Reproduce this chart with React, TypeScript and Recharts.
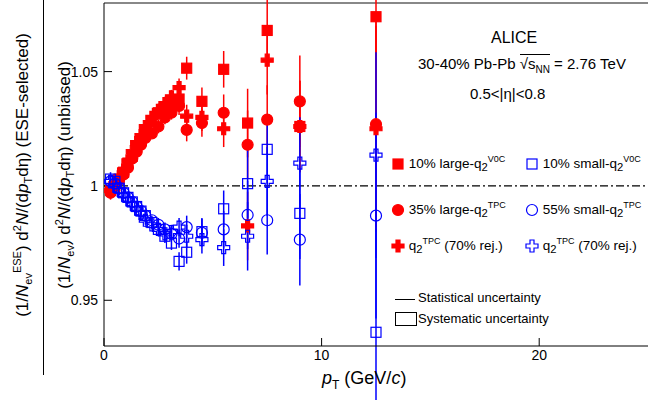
import React from "react";
import { ScatterChart, Scatter, XAxis, YAxis, ErrorBar, ReferenceLine } from "recharts";

const ptLow = [0.3, 0.5, 0.7, 0.9, 1.1, 1.3, 1.5, 1.7, 1.9, 2.2, 2.5, 2.8, 3.1, 3.45, 3.8, 4.5, 5.5, 6.6, 7.5, 9, 12.5];
const redSq = [0.998, 1.0, 1.003, 1.006, 1.01, 1.013, 1.017, 1.02, 1.024, 1.028, 1.032, 1.034, 1.036, 1.038, 1.0515, 1.037, 1.051, 1.0275, 1.068, 1.026, 1.074];
const statErr = [0.003, 0.002, 0.002, 0.002, 0.002, 0.002, 0.002, 0.002, 0.002, 0.002, 0.003, 0.003, 0.003, 0.004, 0.005, 0.006, 0.008, 0.015, 0.015, 0.02, 0.045];
const redCi = [0.997, 1.0, 1.003, 1.005, 1.008, 1.012, 1.015, 1.018, 1.021, 1.023, 1.026, 1.03, 1.032, 1.035, 1.0245, 1.0275, 1.032, 1.018, 1.029, 1.037, 1.027];
const redCr = [0.998, 1.001, 1.004, 1.007, 1.011, 1.015, 1.019, 1.022, 1.026, 1.03, 1.033, 1.036, 1.039, 1.043, 1.0305, 1.03, 1.025, 0.9825, 1.055, 1.026, 1.025];
const bluSq = [1.003, 1.002, 0.999, 0.997, 0.995, 0.993, 0.991, 0.989, 0.987, 0.984, 0.981, 0.978, 0.975, 0.967, 0.971, 0.98, 0.99, 1.001, 1.016, 0.988, 0.936];
const bluCi = [1.002, 1.001, 0.999, 0.997, 0.995, 0.993, 0.991, 0.989, 0.987, 0.985, 0.983, 0.981, 0.979, 0.977, 0.982, 0.9795, 0.981, 0.9873, 0.985, 0.9765, 0.987];
const bluCr = [1.002, 1.0, 0.998, 0.996, 0.994, 0.992, 0.99, 0.988, 0.985, 0.983, 0.981, 0.979, 0.98, 0.982, 0.978, 0.9765, 0.973, 0.978, 1.002, 1.01, 1.0135];

const mk = (vals: number[]) => ptLow.map((x, i) => ({ x, y: vals[i], e: statErr[i] }));

const RED = "#ff0000";
const BLUE = "#0000ff";

const shape = (kind: string, color: string, filled: boolean) => (p: any) => {
  const { cx, cy } = p;
  if (cx == null) return null;
  const f = filled ? color : "none";
  if (kind === "sq") return <rect x={cx - 5} y={cy - 5} width={10} height={10} fill={f} stroke={color} strokeWidth={1.2} />;
  if (kind === "ci") return <circle cx={cx} cy={cy} r={5.5} fill={f} stroke={color} strokeWidth={1.2} />;
  const d = `M${cx - 2},${cy - 6}h4v4h4v4h-4v4h-4v-4h-4v-4h4z`;
  return <path d={d} fill={f} stroke={color} strokeWidth={1.2} />;
};

const T = (props: any) => <div style={{ position: "absolute", fontFamily: "Liberation Sans, Arial", fontSize: 14, color: "#000", whiteSpace: "nowrap", ...props.style }}>{props.children}</div>;

const LegIcon = ({ kind, color, filled }: any) => (
  <svg width={14} height={14} style={{ verticalAlign: "middle" }}>{shape(kind, color, filled)({ cx: 7, cy: 7 })}</svg>
);

export default function App() {
  const series = [
    { d: redSq, k: "sq", c: RED, f: true },
    { d: redCi, k: "ci", c: RED, f: true },
    { d: redCr, k: "cr", c: RED, f: true },
    { d: bluSq, k: "sq", c: BLUE, f: false },
    { d: bluCi, k: "ci", c: BLUE, f: false },
    { d: bluCr, k: "cr", c: BLUE, f: false },
  ];
  const fs = { fontSize: 13.5 };
  return (
    <div style={{ position: "fixed", left: 0, top: 0, width: 648, height: 400, background: "#fff", overflow: "hidden" }}>
      <ScatterChart width={648} height={400} margin={{ top: 3, right: 0, bottom: 0, left: 64 }}>
        <XAxis type="number" dataKey="x" domain={[0, 25]} ticks={[0, 10, 20]} tickSize={-8} axisLine={{ stroke: "#000" }} tick={{ fill: "#000", fontSize: 14, fontFamily: "Liberation Sans", dy: 10 }} stroke="#000" height={54} />
        <YAxis type="number" dataKey="y" domain={[0.93, 1.08]} ticks={[0.95, 1, 1.05]} tickSize={-8} stroke="#000" tick={{ fill: "#000", fontSize: 14, fontFamily: "Liberation Sans", dx: -12 }} width={40} allowDataOverflow />
        <ReferenceLine y={1.08} stroke="#888" strokeWidth={2} />
        <ReferenceLine y={1} stroke="#000" strokeDasharray="8 3 2 3" strokeWidth={1.2} />
        {series.map((s, i) => (
          <Scatter key={i} data={mk(s.d)} isAnimationActive={false} shape={shape(s.k, s.c, s.f)}>
            <ErrorBar dataKey="e" direction="y" stroke={s.c} width={0} strokeWidth={1.5} />
          </Scatter>
        ))}
      </ScatterChart>
      <T style={{ left: 491, top: 29, fontSize: 16 }}>ALICE</T>
      <T style={{ left: 418, top: 55, fontSize: 15 }}>30-40% Pb-Pb <span style={{ borderTop: "1px solid #000" }}>√s<sub style={{ fontSize: 10 }}>NN</sub></span> = 2.76 TeV</T>
      <T style={{ left: 470, top: 85, fontSize: 15 }}>0.5&lt;|η|&lt;0.8</T>
      <T style={{ left: 391, top: 154, ...fs }}><LegIcon kind="sq" color={RED} filled /> 10% large-q<sub>2</sub><sup style={{ fontSize: 9 }}>V0C</sup></T>
      <T style={{ left: 525, top: 154, ...fs }}><LegIcon kind="sq" color={BLUE} /> 10% small-q<sub>2</sub><sup style={{ fontSize: 9 }}>V0C</sup></T>
      <T style={{ left: 391, top: 200, ...fs }}><LegIcon kind="ci" color={RED} filled /> 35% large-q<sub>2</sub><sup style={{ fontSize: 9 }}>TPC</sup></T>
      <T style={{ left: 525, top: 200, ...fs }}><LegIcon kind="ci" color={BLUE} /> 55% small-q<sub>2</sub><sup style={{ fontSize: 9 }}>TPC</sup></T>
      <T style={{ left: 391, top: 236, ...fs }}><LegIcon kind="cr" color={RED} filled /> q<sub>2</sub><sup style={{ fontSize: 9 }}>TPC</sup> (70% rej.)</T>
      <T style={{ left: 525, top: 236, ...fs }}><LegIcon kind="cr" color={BLUE} /> q<sub>2</sub><sup style={{ fontSize: 9 }}>TPC</sup> (70% rej.)</T>
      <div style={{ position: "absolute", left: 395, top: 299, width: 20, borderTop: "1px solid #000" }} />
      <T style={{ left: 418, top: 290, fontSize: 13 }}>Statistical uncertainty</T>
      <div style={{ position: "absolute", left: 395, top: 312, width: 20, height: 12, border: "1px solid #000" }} />
      <T style={{ left: 418, top: 311, fontSize: 13 }}>Systematic uncertainty</T>
      <T style={{ left: 322, top: 368, fontSize: 18 }}><i>p</i><sub style={{ fontSize: 12 }}>T</sub> (GeV/<i>c</i>)</T>
      <div style={{ position: "absolute", left: 0, top: 0, width: 400, height: 60, transform: "translate(-168px,145px) rotate(-90deg)", transformOrigin: "200px 30px", fontFamily: "Liberation Sans", fontSize: 17, textAlign: "center", lineHeight: "30px" }}>
        <div style={{ borderBottom: "1px solid #000" }}>(1/<i>N</i><sub style={{ fontSize: 11 }}>ev</sub><sup style={{ fontSize: 11 }}>ESE</sup>) d<sup style={{ fontSize: 11 }}>2</sup><i>N</i>/(d<i>p</i><sub style={{ fontSize: 11 }}>T</sub>dη) (ESE-selected)</div>
        <div>(1/<i>N</i><sub style={{ fontSize: 11 }}>ev</sub>) d<sup style={{ fontSize: 11 }}>2</sup><i>N</i>/(d<i>p</i><sub style={{ fontSize: 11 }}>T</sub>dη) (unbiased)</div>
      </div>
    </div>
  );
}
